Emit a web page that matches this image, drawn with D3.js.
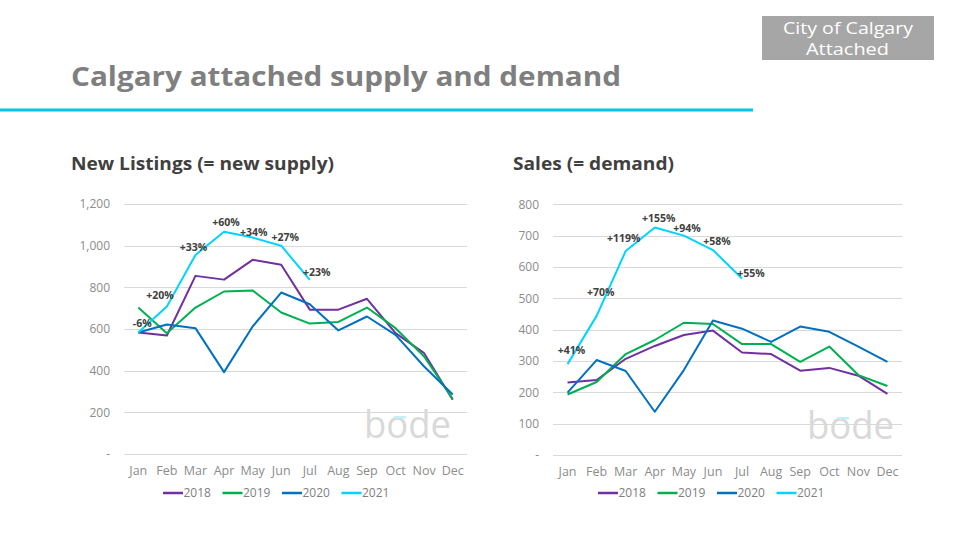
<!DOCTYPE html>
<html>
<head>
<meta charset="utf-8">
<script src="https://cdn.jsdelivr.net/npm/d3@7/dist/d3.min.js"></script>
<style>
  html, body { margin: 0; padding: 0; background: #fff; }
  svg { display: block; font-family: "Open Sans", "DejaVu Sans", sans-serif; }
</style>
</head>
<body>
<svg id="chart" width="955" height="534"></svg>
<script>
// ---------- data ----------
const months = ["Jan","Feb","Mar","Apr","May","Jun","Jul","Aug","Sep","Oct","Nov","Dec"];
const years = ["2018","2019","2020","2021"];

const listings2018 = [583, 569, 855, 837, 932, 908, 693, 693, 745, 580, 484, 260];
const listings2019 = [703, 580, 703, 780, 785, 679, 626, 634, 703, 604, 468, 264];
const listings2020 = [583, 622, 604, 393, 612, 775, 719, 593, 660, 572, 420, 286];
const listings2021 = [583, 708, 955, 1067, 1039, 1000, 836];
const listingsLabels = ["-6%", "+20%", "+33%", "+60%", "+34%", "+27%", "+23%"];
const listingsTicks = [0, 200, 400, 600, 800, 1000, 1200];

const sales2018 = [231, 239, 307, 348, 383, 397, 327, 322, 269, 278, 253, 195];
const sales2019 = [193, 233, 322, 367, 422, 418, 354, 354, 297, 346, 255, 220];
const sales2020 = [199, 303, 268, 138, 271, 429, 403, 361, 410, 393, 346, 297];
const sales2021 = [290, 444, 651, 726, 700, 654, 563];
const salesLabels = ["+41%", "+70%", "+119%", "+155%", "+94%", "+58%", "+55%"];
const salesTicks = [0, 100, 200, 300, 400, 500, 600, 700, 800];

// ---------- styles / layout ----------
const colors = { "2018": "#7030a0", "2019": "#00b050", "2020": "#0070c0", "2021": "#00d4ff" };
// small label nudges (dx, dy) relative to the data point
const listingsNudge = [[4, -10], [-7, -12], [-2, -8], [2, -10], [1, -6], [4, -9], [7, -8]];
const salesNudge = [[4, -14], [4, -24], [-2, -13], [4, -9], [3, -8], [4, -9], [9, -6]];

const svg = d3.select("#chart");

// Header
svg.append("text")
  .attr("x", 71).attr("y", 86)
  .attr("fill", "#7f7f7f")
  .attr("font-size", 26.5).attr("font-weight", 700)
  .attr("textLength", 550).attr("lengthAdjust", "spacingAndGlyphs")
  .text("Calgary attached supply and demand");

svg.append("rect")
  .attr("x", 0).attr("y", 108.5).attr("width", 753).attr("height", 3)
  .attr("fill", "#00c8eb");

svg.append("rect")
  .attr("x", 762).attr("y", 16).attr("width", 172).attr("height", 44)
  .attr("fill", "#a6a6a6");
svg.append("text")
  .attr("x", 783).attr("y", 34)
  .attr("fill", "#fff").attr("font-size", 17)
  .attr("textLength", 130).attr("lengthAdjust", "spacingAndGlyphs")
  .text("City of Calgary");
svg.append("text")
  .attr("x", 806).attr("y", 55)
  .attr("fill", "#fff").attr("font-size", 17)
  .attr("textLength", 83).attr("lengthAdjust", "spacingAndGlyphs")
  .text("Attached");

function panel(opts) {
  const g = svg.append("g");
  const x = d3.scaleBand().domain(months).range([opts.x0, opts.x1]);
  const y = d3.scaleLinear().domain([0, opts.max]).range([opts.yBottom, opts.yTop]);

  g.append("text")
    .attr("x", opts.titleX).attr("y", 170)
    .attr("fill", "#404040").attr("font-size", 17).attr("font-weight", 700)
    .attr("textLength", opts.titleW).attr("lengthAdjust", "spacingAndGlyphs")
    .text(opts.title);

  // gridlines
  g.selectAll("line.grid").data(opts.ticks).join("line")
    .attr("class", "grid")
    .attr("x1", opts.x0).attr("x2", opts.x1)
    .attr("y1", d => Math.round(y(d)) + 0.5).attr("y2", d => Math.round(y(d)) + 0.5)
    .attr("stroke", "#d9d9d9").attr("stroke-width", 1);

  // y axis labels
  const yAxis = d3.axisLeft(y).tickValues(opts.ticks)
    .tickFormat(d => d === 0 ? "-" : d3.format(",")(d))
    .tickSize(0).tickPadding(0);
  const ya = g.append("g").attr("transform", `translate(${opts.yLabelX},0)`).call(yAxis);
  ya.select(".domain").remove();
  ya.selectAll("text").attr("fill", "#8c8c8c").attr("font-size", 12)
    .attr("font-family", "'Open Sans', sans-serif");

  // x axis labels
  const xAxis = d3.axisBottom(x).tickSize(0).tickPadding(0);
  const xa = g.append("g").attr("transform", `translate(0,${opts.yBottom + 8})`).call(xAxis);
  xa.select(".domain").remove();
  xa.selectAll("text").attr("fill", "#8c8c8c").attr("font-size", 12.5)
    .attr("dy", "1.05em")
    .attr("font-family", "'Open Sans', sans-serif");

  // watermark
  const wm = g.append("g");
  wm.append("text")
    .attr("x", opts.wmX).attr("y", opts.yBottom - 16)
    .attr("fill", "#d9d9d9").attr("font-size", 38).attr("font-weight", 400)
    .attr("font-family", "'Open Sans', sans-serif")
    .attr("textLength", 87).attr("lengthAdjust", "spacingAndGlyphs")
    .text("bode");
  wm.append("rect")
    .attr("x", opts.wmX + 30).attr("y", opts.yBottom - 38).attr("width", 12).attr("height", 2.5)
    .attr("fill", "#c5eef7");

  // lines
  const line = d3.line()
    .x((d, i) => x(months[i]) + x.bandwidth() / 2)
    .y(d => y(d));
  opts.series.forEach((vals, k) => {
    g.append("path")
      .datum(vals)
      .attr("fill", "none")
      .attr("stroke", colors[years[k]])
      .attr("stroke-width", 2)
      .attr("stroke-linejoin", "round")
      .attr("d", line);
  });

  // labels on 2021
  const s21 = opts.series[3];
  g.selectAll("text.lab").data(opts.labels).join("text")
    .attr("class", "lab")
    .attr("x", (d, i) => x(months[i]) + x.bandwidth() / 2 + opts.nudge[i][0])
    .attr("y", (d, i) => y(s21[i]) + opts.nudge[i][1] + 4)
    .attr("text-anchor", "middle")
    .attr("fill", "#404040").attr("font-size", 10.5).attr("font-weight", 700)
    .text(d => d);

  // legend
  const lg = g.append("g").attr("transform", `translate(${opts.legendX},493)`);
  years.forEach((yr, k) => {
    const gx = k * 59.5;
    lg.append("line").attr("x1", gx).attr("x2", gx + 20).attr("y1", 0).attr("y2", 0)
      .attr("stroke", colors[yr]).attr("stroke-width", 2.5);
    lg.append("text").attr("x", gx + 20.5).attr("y", 4.3)
      .attr("fill", "#808080").attr("font-size", 12)
      .text(yr);
  });
}

panel({
  title: "New Listings (= new supply)", titleX: 71, titleW: 263,
  x0: 124, x1: 467, yTop: 204, yBottom: 454, max: 1200,
  ticks: listingsTicks, yLabelX: 110,
  series: [listings2018, listings2019, listings2020, listings2021],
  labels: listingsLabels, nudge: listingsNudge,
  legendX: 163, wmX: 364
});

panel({
  title: "Sales (= demand)", titleX: 513, titleW: 161,
  x0: 553, x1: 902, yTop: 204.3, yBottom: 455, max: 800,
  ticks: salesTicks, yLabelX: 539,
  series: [sales2018, sales2019, sales2020, sales2021],
  labels: salesLabels, nudge: salesNudge,
  legendX: 598, wmX: 807
});
</script>
</body>
</html>
